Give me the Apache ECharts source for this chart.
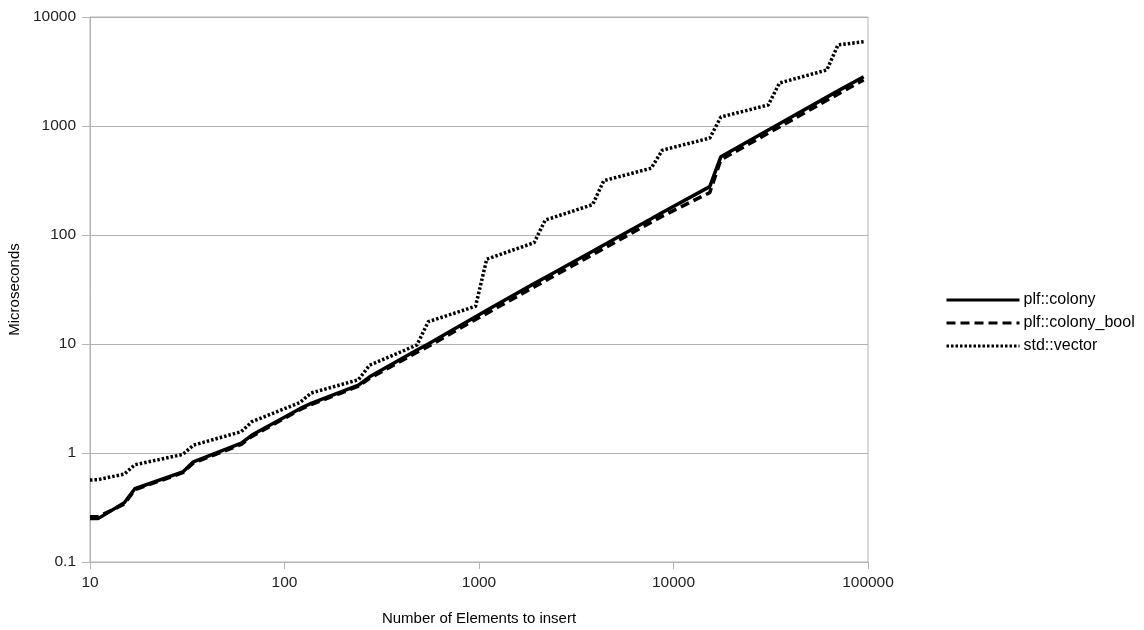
<!DOCTYPE html>
<html>
<head>
<meta charset="utf-8">
<script src="https://cdn.jsdelivr.net/npm/echarts@6/dist/echarts.min.js"></script>
<style>
  html, body { margin: 0; padding: 0; background: #fff; }
  #chart { width: 1144px; height: 630px; }
</style>
</head>
<body>
<div id="chart"></div>
<script>
// number of elements (x)
const elements = [10, 11, 15, 17, 30, 34, 60, 68, 120, 137, 240, 274, 480, 548, 960, 1096,
  1920, 2190, 3840, 4380, 7680, 8760, 15360, 17520, 30720, 35040, 61440, 70080, 95000];
// microseconds
const colony = [0.25, 0.25, 0.35, 0.47, 0.67, 0.83, 1.23, 1.46, 2.55, 2.85, 4.2, 5.0, 8.8, 10.0, 17.8, 20.4,
  35.8, 40.8, 71, 81, 141, 161, 278, 523, 920, 1050, 1840, 2100, 2830];
const colonyBool = [0.26, 0.26, 0.34, 0.46, 0.66, 0.81, 1.2, 1.42, 2.5, 2.78, 4.1, 4.85, 8.4, 9.5, 16.8, 19.1,
  33.3, 38, 66, 75, 131, 149, 245, 490, 860, 980, 1720, 1960, 2650];
const vector = [0.565, 0.57, 0.64, 0.78, 0.97, 1.18, 1.57, 1.94, 2.9, 3.55, 4.7, 6.4, 9.8, 16, 22.2, 60,
  85, 137, 190, 315, 410, 600, 775, 1210, 1560, 2480, 3265, 5540, 5930];

const pairs = ys => elements.map((x, i) => [x, ys[i]]);
const plain = v => String(Number(Number(v).toPrecision(6)));

const font = 'Liberation Sans';
const chart = echarts.init(document.getElementById('chart'));
chart.setOption({
  backgroundColor: '#fff',
  animation: false,
  grid: {
    left: 90, right: 276, top: 17, bottom: 68,
    outerBoundsMode: 'none',
    containLabel: false,
    show: true, borderColor: '#b3b3b3', borderWidth: 1
  },
  legend: {
    orient: 'vertical',
    left: 940,
    top: 287,
    itemWidth: 73,
    itemHeight: 12,
    itemGap: 7,
    itemStyle: { opacity: 0 },
    lineStyle: { width: 3 },
    textStyle: { fontFamily: font, fontSize: 16, color: '#000', padding: [0, 0, 0, -1] },
    data: ['plf::colony', 'plf::colony_bool', 'std::vector']
  },
  xAxis: {
    type: 'log',
    logBase: 10,
    min: 10,
    max: 100000,
    name: 'Number of Elements to insert',
    nameLocation: 'middle',
    nameGap: 49,
    nameTextStyle: { fontFamily: font, fontSize: 15, color: '#000' },
    axisLine: { lineStyle: { color: '#b3b3b3', width: 1 } },
    axisTick: { show: true, length: 7, lineStyle: { color: '#b3b3b3' } },
    axisLabel: { fontFamily: font, fontSize: 15.5, color: '#222', margin: 13, formatter: plain },
    splitLine: { show: false },
    minorTick: { show: false }
  },
  yAxis: {
    type: 'log',
    logBase: 10,
    min: 0.1,
    max: 10000,
    name: 'Microseconds',
    nameLocation: 'middle',
    nameGap: 64,
    nameTextStyle: { fontFamily: font, fontSize: 15, color: '#000' },
    axisLine: { show: true, lineStyle: { color: '#b3b3b3', width: 1 } },
    axisTick: { show: true, length: 8, lineStyle: { color: '#b3b3b3' } },
    axisLabel: { fontFamily: font, fontSize: 15.5, color: '#222', margin: 14, formatter: plain },
    splitLine: { show: true, lineStyle: { color: '#b3b3b3', width: 1 } }
  },
  series: [
    {
      name: 'plf::colony',
      type: 'line',
      data: pairs(colony),
      symbol: 'none',
      color: '#000',
      lineStyle: { color: '#000', width: 3.5 },
      z: 3
    },
    {
      name: 'plf::colony_bool',
      type: 'line',
      data: pairs(colonyBool),
      symbol: 'none',
      color: '#000',
      lineStyle: { color: '#000', width: 3.5, type: [9, 5] },
      z: 2
    },
    {
      name: 'std::vector',
      type: 'line',
      data: pairs(vector),
      symbol: 'none',
      color: '#000',
      lineStyle: { color: '#000', width: 3.5, type: [2.5, 2] },
      z: 1
    }
  ]
});
</script>
</body>
</html>
